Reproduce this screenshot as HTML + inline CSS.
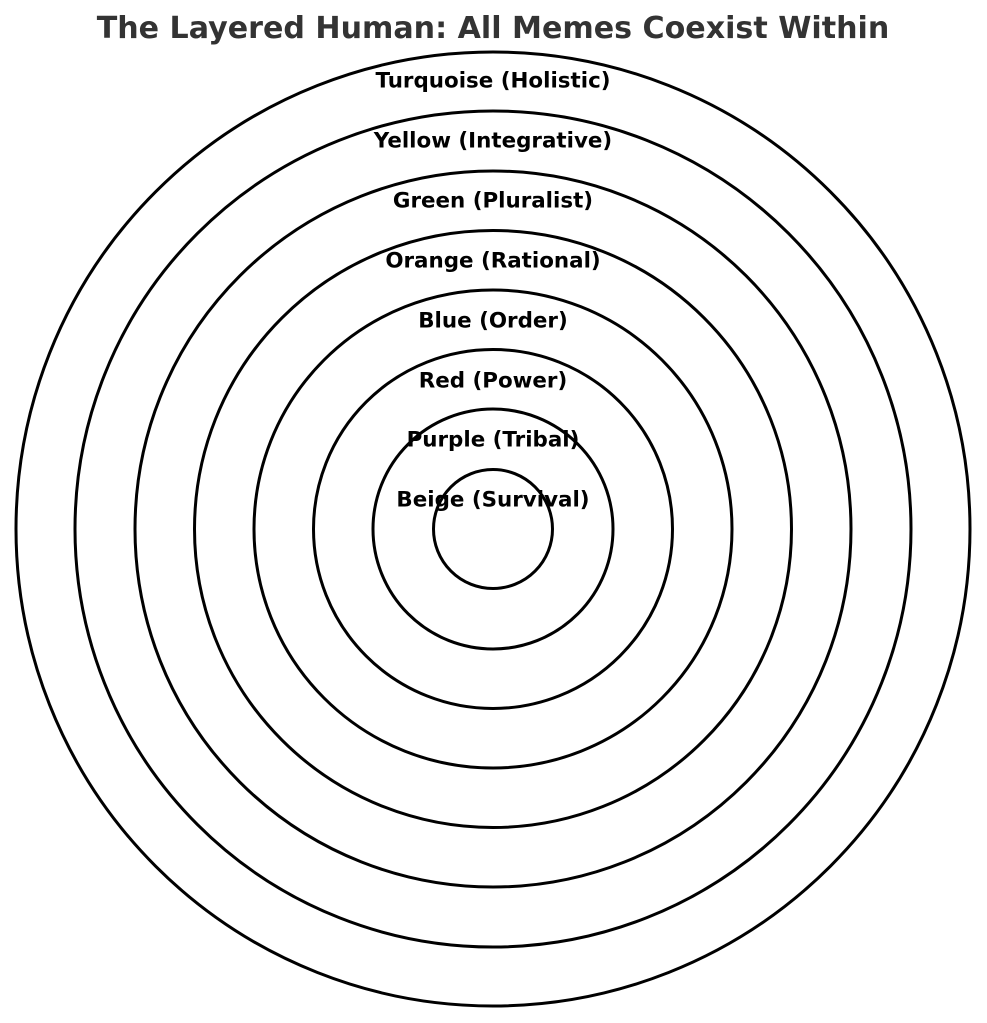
<!DOCTYPE html>
<html><head><meta charset="utf-8"><style>
html,body{margin:0;padding:0;background:#fff;}
svg{display:block;}
</style></head><body>
<svg width="987" height="1023" viewBox="0 0 987 1023" xmlns="http://www.w3.org/2000/svg">
<rect width="987" height="1023" fill="#fff"/>
<text x="493" y="38" text-anchor="middle" font-family="DejaVu Sans, Liberation Sans, sans-serif" font-weight="bold" font-size="30.1" fill="#333">The Layered Human: All Memes Coexist Within</text>
<g fill="none" stroke="#000" stroke-width="3">
<circle cx="493" cy="529" r="477"/>
<circle cx="493" cy="529" r="418"/>
<circle cx="493" cy="529" r="358"/>
<circle cx="493" cy="529" r="298.5"/>
<circle cx="493" cy="529" r="239"/>
<circle cx="493" cy="529" r="179.5"/>
<circle cx="493" cy="529" r="120"/>
<circle cx="493" cy="529" r="59.5"/>
</g>
<g font-family="DejaVu Sans, Liberation Sans, sans-serif" font-weight="bold" font-size="21.4" fill="#000" text-anchor="middle" dominant-baseline="central">
<text x="493" y="81">Turquoise (Holistic)</text>
<text x="493" y="141">Yellow (Integrative)</text>
<text x="493" y="201">Green (Pluralist)</text>
<text x="493" y="261">Orange (Rational)</text>
<text x="493" y="321">Blue (Order)</text>
<text x="493" y="381">Red (Power)</text>
<text x="493" y="440">Purple (Tribal)</text>
<text x="493" y="500">Beige (Survival)</text>
</g>
</svg>
</body></html>
